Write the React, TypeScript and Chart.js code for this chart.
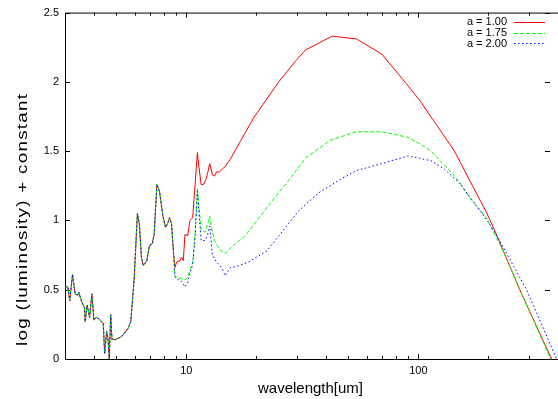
import { useEffect, useRef } from 'react';
import { Chart, registerables } from 'chart.js';

Chart.register(...registerables);

const FONT = '"Liberation Sans", Arial, Helvetica, sans-serif';

// Shared part of the spectrum (all three models coincide below ~8.8 um)
const commonWavelength = [3.0, 3.085, 3.146, 3.232, 3.318, 3.408, 3.44, 3.547, 3.643, 3.665, 3.738, 3.829, 3.918, 3.997, 4.09, 4.202, 4.298, 4.385, 4.447, 4.536, 4.595, 4.656, 4.721, 4.783, 4.942, 5.247, 5.61, 5.763, 5.955, 6.155, 6.279, 6.405, 6.534, 6.759, 6.936, 7.126, 7.27, 7.468, 7.664, 7.928, 8.136, 8.299, 8.467, 8.638, 8.811];
const commonLum = [0.52, 0.52, 0.42, 0.61, 0.47, 0.46, 0.48, 0.41, 0.37, 0.27, 0.39, 0.3, 0.47, 0.28, 0.3, 0.29, 0.27, 0.26, 0.04, 0.2, 0.15, 0.0, 0.32, 0.14, 0.14, 0.16, 0.22, 0.27, 0.57, 1.05, 0.97, 0.73, 0.675, 0.71, 0.82, 0.83, 0.9, 1.26, 1.21, 1.03, 0.95, 0.975, 1.02, 0.975, 0.76];

// a = 1.00
const redWavelength = [8.936, 9.08, 9.392, 9.543, 9.705, 9.871, 10.13, 10.37, 10.65, 10.91, 11.16, 11.35, 11.58, 11.85, 12.12, 12.37, 12.62, 12.96, 13.22, 13.49, 13.86, 14.71, 15.46, 17.08, 19.5, 25.02, 29.55, 32.65, 42.56, 54.1, 69.66, 88.5, 101, 143.2, 166.3, 196.4, 217, 273.6, 375.4];
const redLum = [0.66, 0.7, 0.71, 0.735, 0.71, 0.9, 0.89, 1.0, 1.02, 1.26, 1.49, 1.38, 1.26, 1.26, 1.29, 1.345, 1.41, 1.33, 1.32, 1.35, 1.35, 1.39, 1.44, 1.57, 1.74, 2.0, 2.15, 2.23, 2.33, 2.31, 2.2, 1.99, 1.87, 1.5, 1.29, 1.06, 0.9, 0.5, 0.0];

// a = 1.75
const greenWavelength = [8.936, 9.08, 9.543, 9.871, 10.13, 10.37, 10.65, 10.91, 11.16, 11.35, 11.58, 12.05, 12.37, 12.62, 12.87, 13.22, 13.86, 14.71, 15.71, 17.96, 22.65, 27.64, 32.65, 41.9, 54.1, 69.66, 89.9, 101, 113.5, 145.6, 166.3, 196.4, 231.7, 282.8, 371.7];
const greenLum = [0.6, 0.59, 0.58, 0.57, 0.59, 0.64, 0.69, 0.9, 1.23, 1.09, 0.93, 0.915, 0.975, 1.03, 0.94, 0.855, 0.795, 0.76, 0.81, 0.89, 1.11, 1.29, 1.45, 1.58, 1.64, 1.64, 1.6, 1.555, 1.5, 1.31, 1.165, 1.02, 0.78, 0.45, 0.0];

// a = 2.00
const blueWavelength = [8.936, 9.08, 9.543, 9.871, 10.13, 10.37, 10.65, 10.91, 11.16, 11.35, 11.58, 12.05, 12.37, 12.62, 12.96, 13.49, 14.22, 14.71, 15.46, 16.25, 18.55, 22.26, 30.53, 37.27, 45.5, 54.1, 67.8, 89.9, 101, 113.5, 129.6, 150.5, 171.8, 203, 224, 292.6, 394.6];
const blueLum = [0.59, 0.58, 0.56, 0.52, 0.55, 0.62, 0.68, 0.88, 1.21, 1.05, 0.855, 0.855, 0.9, 0.96, 0.75, 0.7, 0.66, 0.6, 0.66, 0.665, 0.7, 0.78, 1.07, 1.2, 1.29, 1.36, 1.405, 1.465, 1.45, 1.43, 1.37, 1.27, 1.14, 0.975, 0.855, 0.5, 0.0];

const seriesLabels = ['a = 1.00', 'a = 1.75', 'a = 2.00'];
const seriesColors = ['#ff0000', '#00ff00', '#0000ff'];
const seriesDashes = [[], [4, 2], [1.5, 2.5]];
const xMajorTicks = [10, 100];
const xTickLabels = ['10', '100'];
const xMinorTicks = [4, 5, 6, 7, 8, 9, 20, 30, 40, 50, 60, 70, 80, 90, 200, 300];
const yTicks = [0, 0.5, 1, 1.5, 2, 2.5];
const yTickLabels = ['0', '0.5', '1', '1.5', '2', '2.5'];
const xTitle = 'wavelength[um]';
const yTitle = 'log (luminosity) + constant';

function toPoints(wl: number[], lum: number[]) {
  return wl.map((w, i) => ({ x: w, y: lum[i] }));
}

const framePlugin = {
  id: 'gnuFrame',
  beforeDatasetsDraw(chart: any) {
    const { ctx, chartArea: a, scales } = chart;
    const xs = scales.x;
    const ys = scales.y;
    ctx.save();
    ctx.strokeStyle = '#000';
    ctx.lineWidth = 1;
    ctx.beginPath();
    ctx.rect(a.left + 0.5, a.top + 0.5, a.right - a.left, a.bottom - a.top);
    ctx.stroke();
    ctx.beginPath();
    const tick = (v: number, len: number) => {
      const px = Math.round(xs.getPixelForValue(v)) + 0.5;
      ctx.moveTo(px, a.bottom);
      ctx.lineTo(px, a.bottom - len);
      ctx.moveTo(px, a.top);
      ctx.lineTo(px, a.top + len);
    };
    xMajorTicks.forEach((v) => tick(v, 5));
    xMinorTicks.forEach((v) => tick(v, 3));
    yTicks.forEach((v) => {
      const py = Math.round(ys.getPixelForValue(v)) + 0.5;
      ctx.moveTo(a.left, py);
      ctx.lineTo(a.left + 5, py);
      ctx.moveTo(a.right - 8, py);
      ctx.lineTo(a.right - 13, py);
    });
    ctx.stroke();
    ctx.restore();
  },
  afterDraw(chart: any) {
    const { ctx, chartArea: a } = chart;
    ctx.save();
    ctx.fillStyle = '#000';
    // x title
    ctx.font = `15px ${FONT}`;
    ctx.textAlign = 'center';
    ctx.textBaseline = 'alphabetic';
    ctx.fillText(xTitle, (a.left + a.right) / 2 - 1, 393);
    // y title (drawn wide, as in the original rendering)
    ctx.save();
    ctx.translate(27, 220);
    ctx.rotate(-Math.PI / 2);
    (ctx as any).letterSpacing = '1px';
    ctx.textAlign = 'left';
    const w = ctx.measureText(yTitle).width - 1;
    ctx.scale(252 / w, 1);
    ctx.fillText(yTitle, -w / 2, 0);
    ctx.restore();
    // legend
    ctx.font = `11px ${FONT}`;
    ctx.textAlign = 'right';
    ctx.textBaseline = 'middle';
    const rows = [21.7, 32.5, 43.3];
    seriesLabels.forEach((label, i) => {
      const y = rows[i];
      ctx.fillStyle = '#000';
      ctx.fillText(label, 507, y + 0.5);
      ctx.strokeStyle = seriesColors[i];
      ctx.lineWidth = 1;
      ctx.setLineDash(seriesDashes[i]);
      ctx.beginPath();
      ctx.moveTo(514, Math.round(y) + 0.5);
      ctx.lineTo(545, Math.round(y) + 0.5);
      ctx.stroke();
    });
    ctx.restore();
  },
};

export default function App() {
  const ref = useRef<HTMLCanvasElement>(null);
  useEffect(() => {
    const chart = new Chart(ref.current as HTMLCanvasElement, {
      type: 'line',
      data: {
        datasets: [
          {
            label: seriesLabels[0],
            data: toPoints([...commonWavelength, ...redWavelength], [...commonLum, ...redLum]),
            borderColor: seriesColors[0],
            borderWidth: 1,
            borderDash: seriesDashes[0],
            order: 3,
          },
          {
            label: seriesLabels[1],
            data: toPoints([...commonWavelength, ...greenWavelength], [...commonLum, ...greenLum]),
            borderColor: seriesColors[1],
            borderWidth: 1,
            borderDash: seriesDashes[1],
            order: 2,
          },
          {
            label: seriesLabels[2],
            data: toPoints([...commonWavelength, ...blueWavelength], [...commonLum, ...blueLum]),
            borderColor: seriesColors[2],
            borderWidth: 1,
            borderDash: seriesDashes[2],
            order: 1,
          },
        ] as any,
      },
      options: {
        responsive: false,
        animation: false,
        devicePixelRatio: 1,
        layout: { padding: { top: 11, right: 0, left: 0, bottom: 0 } },
        elements: { point: { radius: 0 }, line: { tension: 0 } },
        plugins: { legend: { display: false }, tooltip: { enabled: false } },
        scales: {
          x: {
            type: 'logarithmic',
            min: 3,
            max: 400,
            grid: { display: false, drawTicks: false },
            border: { display: false },
            afterBuildTicks: (s: any) => {
              s.ticks = xMajorTicks.map((v) => ({ value: v }));
            },
            afterFit: (s: any) => {
              s.height = 40;
            },
            ticks: {
              padding: 5,
              autoSkip: false,
              maxRotation: 0,
              color: '#000',
              font: { family: FONT, size: 11 },
              callback: (_v: any, i: number) => xTickLabels[i],
            },
          },
          y: {
            type: 'linear',
            min: 0,
            max: 2.5,
            grid: { display: false, drawTicks: false },
            border: { display: false },
            afterBuildTicks: (s: any) => {
              s.ticks = yTicks.map((v) => ({ value: v }));
            },
            afterFit: (s: any) => {
              s.width = 65;
            },
            ticks: {
              padding: 6,
              color: '#000',
              font: { family: FONT, size: 11 },
              callback: (_v: any, i: number) => yTickLabels[i],
            },
          },
        },
      } as any,
      plugins: [framePlugin],
    });
    return () => chart.destroy();
  }, []);
  return (
    <div style={{ position: 'absolute', left: 0, top: 0, width: 558, height: 399, background: '#fff' }}>
      <canvas ref={ref} width={558} height={399} style={{ display: 'block' }} />
    </div>
  );
}
